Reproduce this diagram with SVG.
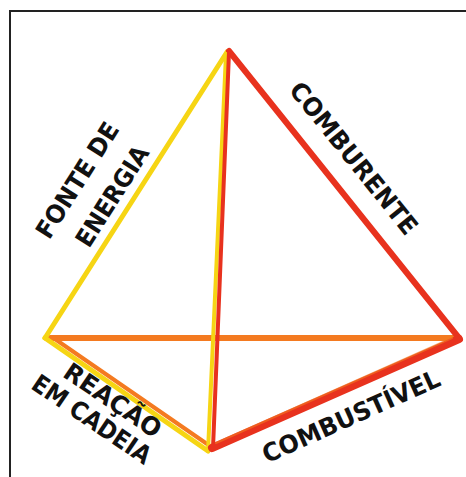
<svg xmlns="http://www.w3.org/2000/svg" width="466" height="477" viewBox="0 0 466 477">
<style>
.lbl{font-family:"DejaVu Sans","Liberation Sans",sans-serif;font-weight:bold;font-size:25px;fill:#111;text-anchor:middle}
.e{fill:none;stroke-linecap:round;stroke-linejoin:round}
.y{stroke:#f6d514}
.o{stroke:#f47a20}
.r{stroke:#e8321e}
</style>
<rect width="466" height="477" fill="#fff"/>
<path d="M10,477 V11 H466" fill="none" stroke="#222" stroke-width="2"/>
<g id="connectors">
<line class="e o" x1="50" y1="338" x2="456" y2="338" stroke-width="6"/>
<line class="e y" x1="45" y1="338" x2="227" y2="52" stroke-width="5"/>
<line class="e r" x1="229" y1="51" x2="459" y2="338" stroke-width="6"/>
<line class="e y" x1="45" y1="338" x2="208" y2="451" stroke-width="5"/>
<line class="e o" x1="52" y1="337" x2="210" y2="446" stroke-width="4"/>
<line class="e y" x1="226" y1="54" x2="208" y2="451" stroke-width="4"/>
<line class="e r" x1="229" y1="52" x2="213" y2="448" stroke-width="4"/>
<line class="e r" x1="212" y1="448" x2="459" y2="339" stroke-width="8"/>
<line class="e o" x1="216" y1="443" x2="452" y2="338" stroke-width="2" opacity="0.6"/>
</g>
<g id="fonte-de-energia">
<text class="lbl" transform="translate(77,180) rotate(-57.5)" y="9" textLength="132" lengthAdjust="spacingAndGlyphs">FONTE DE</text>
<text class="lbl" transform="translate(112,196) rotate(-57.5)" y="9" textLength="114" lengthAdjust="spacingAndGlyphs">ENERGIA</text>
</g>
<g id="comburente">
<text class="lbl" transform="translate(354,158) rotate(51.2)" y="9" textLength="188" lengthAdjust="spacingAndGlyphs">COMBURENTE</text>
</g>
<g id="reacao-em-cadeia">
<text class="lbl" transform="translate(113,400) rotate(34.2)" y="9" textLength="112" lengthAdjust="spacingAndGlyphs">REAÇÃO</text>
<text class="lbl" transform="translate(92,419) rotate(34.2)" y="9" textLength="138" lengthAdjust="spacingAndGlyphs">EM CADEIA</text>
</g>
<g id="combustivel">
<text class="lbl" transform="translate(351,416) rotate(-24.1)" y="9" textLength="192" lengthAdjust="spacingAndGlyphs">COMBUSTÍVEL</text>
</g>
</svg>
